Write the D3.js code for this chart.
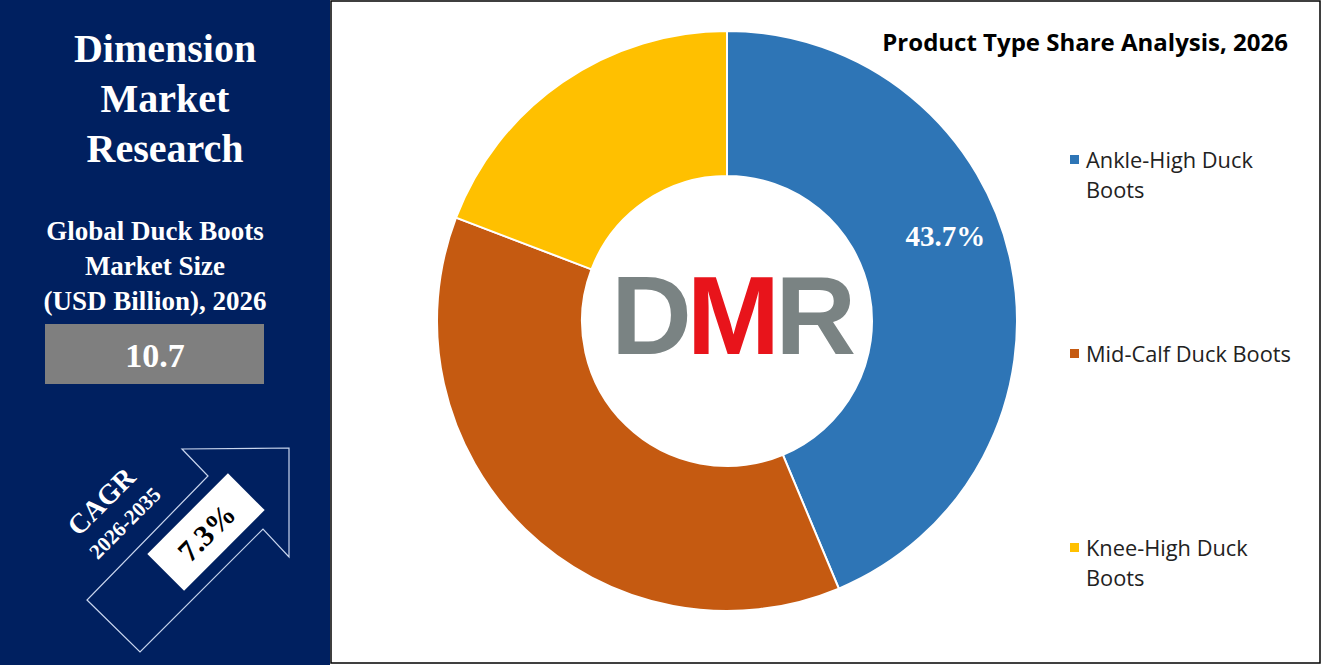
<!DOCTYPE html>
<html><head><meta charset="utf-8">
<script src="https://cdn.jsdelivr.net/npm/d3@7"></script>
<style>body{margin:0;background:#fff}svg{display:block}</style>
</head><body>
<svg id="c" width="1322" height="665"></svg>
<script>
const categories = ['Ankle-High Duck Boots', 'Mid-Calf Duck Boots', 'Knee-High Duck Boots'];
const shares = [43.7, 37.1, 19.2];
const colors = ['#2e75b6', '#c55a11', '#ffc000'];
const legendLines = [['Ankle-High Duck', 'Boots'], ['Mid-Calf Duck Boots'], ['Knee-High Duck', 'Boots']];

const svg = d3.select('#c');
const serif = '"Liberation Serif", "Times New Roman", serif';
const sans = '"Open Sans", "Noto Sans", sans-serif';

// left panel
svg.append('rect').attr('x', 0).attr('y', 0).attr('width', 330).attr('height', 665).attr('fill', '#002060');
['Dimension', 'Market', 'Research'].forEach((t, i) => {
  svg.append('text').attr('x', 165).attr('y', 62 + i * 50).attr('text-anchor', 'middle')
    .attr('font-family', serif).attr('font-weight', 'bold').attr('font-size', 40).attr('fill', '#fff').text(t);
});
['Global Duck Boots', 'Market Size', '(USD Billion), 2026'].forEach((t, i) => {
  svg.append('text').attr('x', 155).attr('y', 240 + i * 35).attr('text-anchor', 'middle')
    .attr('font-family', serif).attr('font-weight', 'bold').attr('font-size', 27).attr('fill', '#fff').text(t);
});
svg.append('rect').attr('x', 45).attr('y', 324).attr('width', 219).attr('height', 60).attr('fill', '#7f7f7f');
svg.append('text').attr('x', 155).attr('y', 367).attr('text-anchor', 'middle')
  .attr('font-family', serif).attr('font-weight', 'bold').attr('font-size', 34).attr('fill', '#fff').text('10.7');

// arrow
svg.append('polygon')
  .attr('points', [[87, 600], [140, 652], [263, 529], [289, 557], [289, 448], [182, 449], [208, 476]].map(p => p.join(',')).join(' '))
  .attr('fill', 'none').attr('stroke', '#c9d6ee').attr('stroke-width', 1.2);
const box = svg.append('g').attr('transform', 'translate(206,532) rotate(-45)');
box.append('rect').attr('x', -57).attr('y', -26).attr('width', 114).attr('height', 52).attr('fill', '#fff');
box.append('text').attr('y', 11).attr('text-anchor', 'middle').attr('font-family', serif)
  .attr('font-weight', 'bold').attr('font-size', 30).attr('fill', '#000').text('7.3%');
svg.append('text').attr('transform', 'translate(108,508) rotate(-45)').attr('text-anchor', 'middle')
  .attr('font-family', serif).attr('font-weight', 'bold').attr('font-size', 28).attr('fill', '#fff').text('CAGR');
svg.append('text').attr('transform', 'translate(130,528) rotate(-45)').attr('text-anchor', 'middle')
  .attr('font-family', serif).attr('font-weight', 'bold').attr('font-size', 21).attr('fill', '#fff').text('2026-2035');

// right panel border
svg.append('rect').attr('x', 331).attr('y', 1).attr('width', 989).attr('height', 662)
  .attr('fill', 'none').attr('stroke', '#000').attr('stroke-width', 1.5);
svg.append('text').attr('x', 1288).attr('y', 51).attr('text-anchor', 'end').attr('font-family', sans)
  .attr('font-weight', 'bold').attr('font-size', 24).attr('fill', '#000').text('Product Type Share Analysis, 2026');

// donut
const cx = 727, cy = 321, outerR = 290, innerR = 145;
const pie = d3.pie().sort(null).value(d => d);
const arc = d3.arc().innerRadius(innerR).outerRadius(outerR);
const g = svg.append('g').attr('transform', `translate(${cx},${cy})`);
const arcs = pie(shares);
g.selectAll('path').data(arcs).join('path').attr('d', arc)
  .attr('fill', (d, i) => colors[i]).attr('stroke', '#fff').attr('stroke-width', 2);
const [lx, ly] = arc.centroid(arcs[0]);
g.append('text').attr('x', lx + 5).attr('y', ly - 32).attr('text-anchor', 'middle').attr('font-family', serif)
  .attr('font-weight', 'bold').attr('font-size', 29).attr('fill', '#fff').text(shares[0].toFixed(1) + '%');

// logo
const logo = g.append('text').attr('x', 4).attr('y', 33).attr('text-anchor', 'middle')
  .attr('font-family', '"Liberation Sans", Arial, sans-serif').attr('font-weight', 'bold').attr('font-size', 112)
  .attr('letter-spacing', -5);
logo.append('tspan').attr('fill', '#7a8383').text('D');
logo.append('tspan').attr('fill', '#e8141b').text('M');
logo.append('tspan').attr('fill', '#7a8383').text('R');

// legend
const ly0 = [161, 355, 549];
legendLines.forEach((lines, i) => {
  svg.append('rect').attr('x', 1070).attr('y', ly0[i] - 6).attr('width', 9).attr('height', 9).attr('fill', colors[i]);
  lines.forEach((t, j) => {
    svg.append('text').attr('x', 1086).attr('y', ly0[i] + 7 + j * 30).attr('font-family', sans)
      .attr('font-size', 21.8).attr('fill', '#222').text(t);
  });
});
</script>
</body></html>
